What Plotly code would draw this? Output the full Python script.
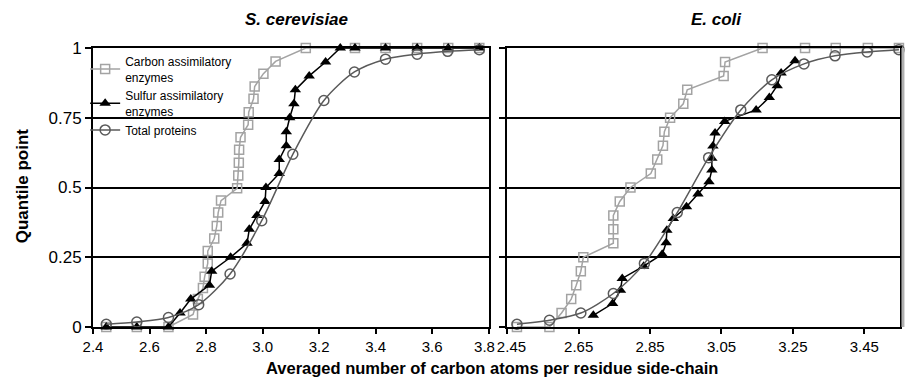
import plotly.graph_objects as go

# ---------------- data ----------------
# S. cerevisiae
sc_carbon_x = [2.447, 2.555, 2.667, 2.754, 2.771, 2.789, 2.795, 2.806, 2.806, 2.829, 2.838, 2.843, 2.853,
               2.910, 2.914, 2.916, 2.917, 2.922, 2.949, 2.951, 2.968, 2.972, 3.003, 3.046, 3.153,
               3.327, 3.435, 3.547, 3.657, 3.767]
sc_carbon_y = [0.0, 0.0, 0.0, 0.045, 0.10, 0.14, 0.18, 0.228, 0.272, 0.317, 0.362, 0.41, 0.453,
               0.497, 0.543, 0.589, 0.635, 0.68, 0.725, 0.77, 0.818, 0.862, 0.908, 0.952, 1.0,
               1.0, 1.0, 1.0, 1.0, 1.0]

sc_sulfur_x = [2.447, 2.555, 2.667, 2.708, 2.746, 2.812, 2.820, 2.887, 2.945, 2.953, 2.980, 3.009, 3.012,
               3.059, 3.059, 3.084, 3.084, 3.096, 3.111, 3.116, 3.165, 3.223, 3.275, 3.327,
               3.435, 3.547, 3.657, 3.767]
sc_sulfur_y = [0.0, 0.0, 0.0, 0.05, 0.10, 0.15, 0.20, 0.25, 0.30, 0.35, 0.40, 0.45, 0.50,
               0.55, 0.60, 0.65, 0.70, 0.75, 0.80, 0.85, 0.90, 0.95, 1.0, 1.0,
               1.0, 1.0, 1.0, 1.0]

sc_total_x = [2.447, 2.555, 2.667, 2.774, 2.885, 2.997, 3.107, 3.217, 3.325, 3.435, 3.547, 3.655, 3.767]
sc_total_y = [0.01, 0.018, 0.034, 0.08, 0.19, 0.381, 0.619, 0.812, 0.914, 0.96, 0.978, 0.988, 0.994]

# E. coli
ec_carbon_x = [2.477, 2.568, 2.602, 2.629, 2.643, 2.656, 2.663, 2.747, 2.747, 2.747, 2.765, 2.795,
               2.852, 2.870, 2.886, 2.890, 2.906, 2.943, 2.954, 3.056, 3.060, 3.165, 3.284,
               3.370, 3.460, 3.547]
ec_carbon_y = [0.0, 0.0, 0.05, 0.10, 0.15, 0.20, 0.25, 0.30, 0.35, 0.40, 0.45, 0.50,
               0.55, 0.60, 0.65, 0.70, 0.75, 0.80, 0.85, 0.90, 0.95, 1.0, 1.0,
               1.0, 1.0, 1.0]

ec_sulfur_x = [2.691, 2.745, 2.767, 2.772, 2.832, 2.884, 2.895, 2.897, 2.915, 2.952, 2.984, 3.015,
               3.023, 3.023, 3.026, 3.032, 3.059, 3.147, 3.184, 3.206, 3.217, 3.256]
ec_sulfur_y = [0.042, 0.084, 0.132, 0.174, 0.218, 0.261, 0.302, 0.347, 0.389, 0.431, 0.477, 0.521,
               0.563, 0.605, 0.649, 0.695, 0.737, 0.778, 0.823, 0.865, 0.91, 0.954]

ec_total_x = [2.477, 2.568, 2.656, 2.747, 2.834, 2.926, 3.014, 3.104, 3.191, 3.281, 3.368, 3.458, 3.547]
ec_total_y = [0.01, 0.024, 0.05, 0.12, 0.228, 0.41, 0.607, 0.778, 0.886, 0.943, 0.972, 0.986, 0.994]

series_names = ["Carbon assimilatory<br>enzymes", "Sulfur assimilatory<br>enzymes", "Total proteins"]
panel_titles = ["<i>S. cerevisiae</i>", "<i>E. coli</i>"]
left_ticks = [2.4, 2.6, 2.8, 3.0, 3.2, 3.4, 3.6, 3.8]
left_ticklabels = ["2.4", "2.6", "2.8", "3.0", "3.2", "3.4", "3.6", "3.8\u00a0\u00a0"]
right_ticks = [2.45, 2.65, 2.85, 3.05, 3.25, 3.45]
right_ticklabels = ["\u00a0\u00a02.45", "2.65", "2.85", "3.05", "3.25", "3.45"]
y_ticks = [0, 0.25, 0.5, 0.75, 1]
y_ticklabels = ["0", "0.25", "0.5", "0.75", "1"]
x_title = "Averaged number of carbon atoms per residue side-chain"
y_title = "Quantile point"

# ---------------- styles ----------------
FONT = "Liberation Sans, Arial, Helvetica, sans-serif"
styles = [
    dict(line=dict(color="#a3a3a3", width=1.5, shape="linear"),
         marker=dict(symbol="square-open", size=9, color="#a3a3a3", line=dict(width=1.5))),
    dict(line=dict(color="#000000", width=1.5, shape="linear"),
         marker=dict(symbol="triangle-up", size=10, color="#000000")),
    dict(line=dict(color="#5a5a5a", width=1.5, shape="spline", smoothing=0.8),
         marker=dict(symbol="circle-open", size=10, color="#5a5a5a", line=dict(width=1.5))),
]

fig = go.Figure()
panels = [
    ("x", "y", [(sc_carbon_x, sc_carbon_y), (sc_sulfur_x, sc_sulfur_y), (sc_total_x, sc_total_y)], True),
    ("x2", "y2", [(ec_carbon_x, ec_carbon_y), (ec_sulfur_x, ec_sulfur_y), (ec_total_x, ec_total_y)], False),
]
for xa, ya, data, show in panels:
    for i, (xs, ys) in enumerate(data):
        fig.add_trace(go.Scatter(
            x=xs, y=ys, xaxis=xa, yaxis=ya, mode="lines+markers",
            name=series_names[i], showlegend=show, cliponaxis=False,
            line=styles[i]["line"], marker=styles[i]["marker"],
        ))

W, H = 924, 378
L, R, T, B = 93, 9, 48, 51
pw = W - L - R
ph = H - T - B


def px(x):
    return (x - L) / pw


def py(y):
    return (H - B - y) / ph


axis_common = dict(
    showline=True, linecolor="black", linewidth=2, mirror=True,
    ticks="outside", tickcolor="black", tickwidth=2,
    zeroline=False,
)
fig.update_layout(
    width=W, height=H,
    margin=dict(l=L, r=R, t=T, b=B),
    plot_bgcolor="white", paper_bgcolor="white",
    font=dict(family=FONT, color="black"),
    xaxis=dict(domain=[0, px(496)], range=[2.4, 3.8], tickvals=left_ticks, ticktext=left_ticklabels,
               ticklen=5, tickfont=dict(size=15), showgrid=False, **axis_common),
    xaxis2=dict(domain=[px(515), 1], range=[2.45, 3.55], tickvals=right_ticks, ticktext=right_ticklabels,
                ticklen=5, tickfont=dict(size=15), showgrid=False, **axis_common),
    yaxis=dict(range=[0, 1], tickvals=y_ticks, ticktext=y_ticklabels, anchor="x",
               ticklen=6, tickfont=dict(size=17),
               showgrid=True, gridcolor="black", gridwidth=2, **axis_common),
    yaxis2=dict(range=[0, 1], tickvals=y_ticks, showticklabels=False, anchor="x2",
                ticklen=6,
                showgrid=True, gridcolor="black", gridwidth=2, **axis_common),
    legend=dict(x=px(85), y=py(47), xanchor="left", yanchor="top",
                bgcolor="rgba(0,0,0,0)", font=dict(size=12, family=FONT),
                tracegroupgap=0, itemwidth=30),
    showlegend=True,
)

annotations = [
    dict(text="<b>" + panel_titles[0] + "</b>", x=px(300), y=py(20)),
    dict(text="<b>" + panel_titles[1] + "</b>", x=px(728), y=py(20)),
]
for a in annotations:
    fig.add_annotation(xref="paper", yref="paper", x=a["x"], y=a["y"], text=a["text"],
                       showarrow=False, font=dict(size=17, family=FONT), xanchor="center", yanchor="middle")
fig.add_annotation(xref="paper", yref="paper", x=px(499), y=py(368), text="<b>" + x_title + "</b>",
                   showarrow=False, font=dict(size=16.5, family=FONT), xanchor="center", yanchor="middle")
fig.add_annotation(xref="paper", yref="paper", x=px(21), y=py(186), text="<b>" + y_title + "</b>",
                   showarrow=False, textangle=-90, font=dict(size=17, family=FONT),
                   xanchor="center", yanchor="middle")

# grey shadow on the right edge of the E. coli panel
fig.add_shape(type="line", xref="paper", yref="paper", x0=px(918), x1=px(918), y0=0, y1=1,
              line=dict(color="#b0b0b0", width=3))

fig.write_html("out.html", config={"displayModeBar": False},
               post_script="document.body.style.margin='0';document.body.style.overflow='hidden';")
